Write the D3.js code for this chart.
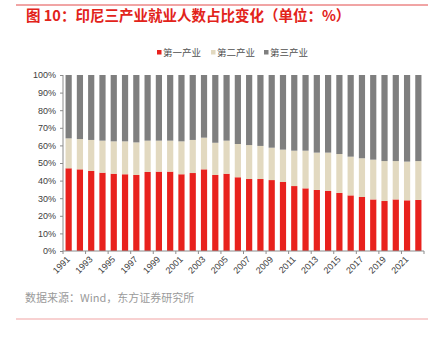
<!DOCTYPE html>
<html><head><meta charset="utf-8">
<script src="https://cdn.jsdelivr.net/npm/d3@7"></script>
<style>
body{margin:0;background:#fff;}
svg{display:block;font-family:Arial,"Liberation Sans","Noto Sans CJK SC",sans-serif;}
</style></head><body>
<svg id="c" width="434" height="343"></svg>
<script>
const years = ["1991","1992","1993","1994","1995","1996","1997","1998","1999","2000","2001","2002","2003","2004","2005","2006","2007","2008","2009","2010","2011","2012","2013","2014","2015","2016","2017","2018","2019","2020","2021","2022"];
const primary = [47.0,46.4,45.5,44.5,43.9,43.6,43.2,44.9,45.1,45.1,43.6,44.3,46.4,43.2,43.9,41.9,40.9,40.9,40.3,39.2,36.9,35.6,34.7,34.1,33.0,31.6,30.7,29.3,28.4,29.3,28.8,29.0];
const secondary = [17.0,17.2,17.6,18.2,18.4,18.7,18.5,17.8,17.6,17.6,18.7,18.8,18.0,18.3,18.8,18.9,19.3,18.8,18.4,18.4,20.1,21.4,21.2,21.8,22.1,22.0,22.0,22.6,22.7,21.8,22.0,22.1];
const tertiary = [36.0,36.4,36.9,37.3,37.7,37.7,38.3,37.3,37.3,37.3,37.7,36.9,35.6,38.5,37.3,39.2,39.8,40.3,41.3,42.4,43.0,43.0,44.1,44.1,44.9,46.4,47.3,48.1,48.9,48.9,49.2,48.9];
const seriesNames = ["第一产业","第二产业","第三产业"];
const seriesColors = ["#e8211d","#e2d9c0","#7f7f7f"];
const yTicks = [0,10,20,30,40,50,60,70,80,90,100];

const svg = d3.select("#c");
// top & bottom rules
svg.append("line").attr("x1",16).attr("x2",428).attr("y1",5).attr("y2",5).attr("stroke","#e24a4a").attr("stroke-width",1);
svg.append("line").attr("x1",16).attr("x2",428).attr("y1",319).attr("y2",319).attr("stroke","#f2a3a3").attr("stroke-width",1.2);
// title
svg.append("text").attr("x",26).attr("y",21).attr("fill","#e2231a").attr("font-size",14.5).attr("font-weight","bold")
  .attr("font-family","'Noto Sans CJK SC',sans-serif").text("图 10：印尼三产业就业人数占比变化（单位：%）");

const margin = {left:63, right:10, top:75, bottom:92};
const x = d3.scaleBand().domain(years).range([margin.left, 424]).paddingInner(0.45).paddingOuter(0.225);
const y = d3.scaleLinear().domain([0,100]).range([251, 75]);

const data = years.map((yr,i)=>({year:yr, v:[primary[i],secondary[i],tertiary[i]]}));
const keys = [0,1,2];
const stack = d3.stack().keys(keys).value((d,k)=>d.v[k]);
const layers = stack(data);

svg.append("g").selectAll("g").data(layers).join("g").attr("fill",(d,i)=>seriesColors[i])
  .selectAll("rect").data(d=>d).join("rect")
  .attr("x",d=>x(d.data.year)).attr("width",x.bandwidth())
  .attr("y",d=>y(d[1])).attr("height",d=>y(d[0])-y(d[1]));

// y axis
const yAxis = d3.axisLeft(y).tickValues(yTicks).tickFormat(d=>d+"%").tickSize(3).tickPadding(4);
const gy = svg.append("g").attr("transform",`translate(${margin.left},0)`).call(yAxis);
gy.selectAll("path,line").attr("stroke","#8c8c8c");
gy.select(".domain").attr("d",`M0,${y(100)}V${y(0)}`);
gy.selectAll("text").attr("font-size",9).attr("fill","#404040").attr("font-family","Arial,'Liberation Sans',sans-serif");

// x axis
const gx = svg.append("g").attr("transform",`translate(0,${y(0)})`);
gx.append("line").attr("x1",margin.left).attr("x2",424).attr("stroke","#8c8c8c");
const boundaries = d3.range(0, years.length+1, 2).map(k=>margin.left + k*(424-margin.left)/years.length);
gx.selectAll("line.tk").data(boundaries).join("line").attr("class","tk")
  .attr("x1",d=>d).attr("x2",d=>d).attr("y1",0).attr("y2",3).attr("stroke","#8c8c8c");
gx.selectAll("text").data(years.filter((d,i)=>i%2===0)).join("text")
  .attr("transform",d=>`translate(${x(d)+x.bandwidth()/2+2},${9}) rotate(-45)`)
  .attr("text-anchor","end").attr("font-size",9).attr("fill","#404040")
  .attr("font-family","Arial,'Liberation Sans',sans-serif").text(d=>d);

// legend
const legX = [157, 211, 264];
const lg = svg.append("g");
seriesNames.forEach((n,i)=>{
  lg.append("rect").attr("x",legX[i]).attr("y",50).attr("width",4.5).attr("height",4.5).attr("fill",seriesColors[i]);
  lg.append("text").attr("x",legX[i]+6).attr("y",56).attr("font-size",9.5).attr("fill","#505050")
    .attr("font-family","'Noto Sans CJK SC',sans-serif").text(n);
});

// source
svg.append("text").attr("x",25).attr("y",302).attr("font-size",11).attr("fill","#9a9a9a")
  .attr("font-family","'Noto Sans CJK SC',sans-serif").text("数据来源：Wind，东方证券研究所");
</script>
</body></html>
